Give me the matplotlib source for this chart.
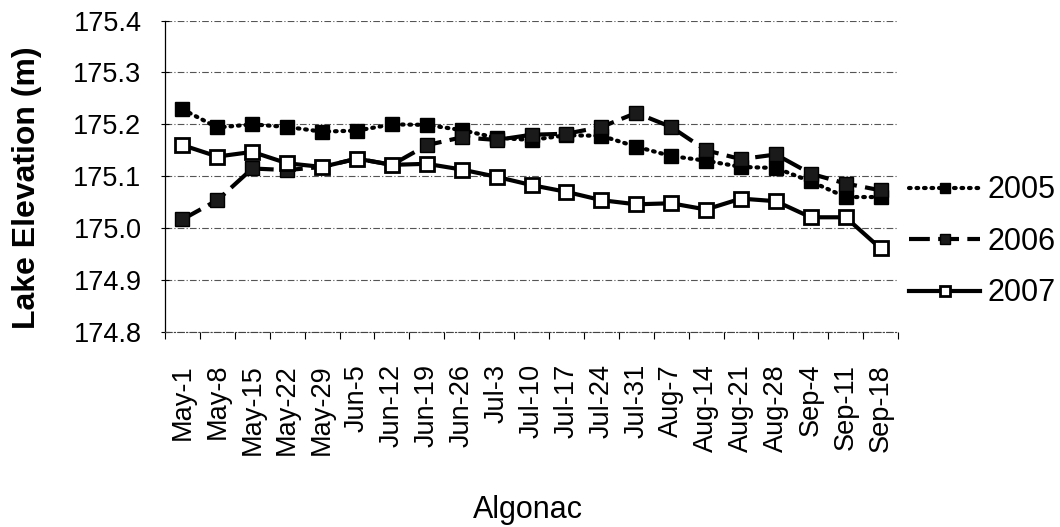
import numpy as np
import matplotlib.pyplot as plt

plt.rcParams['font.family'] = ['Liberation Sans', 'DejaVu Sans']

dates = ["May-1", "May-8", "May-15", "May-22", "May-29", "Jun-5", "Jun-12",
         "Jun-19", "Jun-26", "Jul-3", "Jul-10", "Jul-17", "Jul-24", "Jul-31",
         "Aug-7", "Aug-14", "Aug-21", "Aug-28", "Sep-4", "Sep-11", "Sep-18"]

elev_2005 = [175.229, 175.194, 175.200, 175.195, 175.186, 175.188, 175.200,
             175.199, 175.189, 175.174, 175.170, 175.179, 175.178, 175.157,
             175.139, 175.130, 175.118, 175.116, 175.090, 175.060, 175.060]
elev_2006 = [175.017, 175.054, 175.115, 175.112, 175.118, 175.134, 175.122,
             175.160, 175.175, 175.170, 175.180, 175.182, 175.195, 175.222,
             175.195, 175.150, 175.133, 175.142, 175.105, 175.086, 175.073]
elev_2007 = [175.160, 175.138, 175.147, 175.125, 175.118, 175.134, 175.122,
             175.124, 175.113, 175.099, 175.083, 175.070, 175.054, 175.046,
             175.048, 175.036, 175.057, 175.052, 175.021, 175.021, 174.961]

yticks = [174.8, 174.9, 175.0, 175.1, 175.2, 175.3, 175.4]

fig = plt.figure(figsize=(10.6, 5.27), dpi=100)
ax = fig.add_axes([0.1557, 0.370, 0.6915, 0.591])

x = np.arange(len(dates))

ax.plot(x, elev_2005, color='black', linestyle=(0, (0.4, 1.4)), linewidth=3,
        dash_capstyle='round', marker='s', markersize=10.5,
        markerfacecolor='black', markeredgecolor='black', label='2005', zorder=3)
ax.plot(x, elev_2006, color='black', linestyle=(0, (5, 2)), linewidth=3,
        marker='s', markersize=10.5, markerfacecolor='#1a1a1a',
        markeredgecolor='black', label='2006', zorder=3)
ax.plot(x, elev_2007, color='black', linestyle='-', linewidth=3,
        marker='s', markersize=10.5, markerfacecolor='white',
        markeredgecolor='black', markeredgewidth=2, label='2007', zorder=4)

ax.set_xlim(-0.5, len(dates) - 0.5)
ax.set_ylim(174.8, 175.4)
ax.set_yticks(yticks)
ax.set_yticklabels([f"{v:.1f}" for v in yticks], fontsize=19.5)

# category ticks sit between the dates, labels centred on them
ax.set_xticks(x)
ax.set_xticklabels(dates, rotation=90, fontsize=19.5)
ax.tick_params(axis='x', length=0, pad=23)
ax.set_xticks(np.arange(-0.5, len(dates)), minor=True)
ax.tick_params(axis='x', which='minor', length=5, direction='out', width=0.8)
ax.tick_params(axis='y', length=6, direction='inout', width=0.8, pad=14)

ax.yaxis.grid(True, color='#555555', linestyle=(0, (6, 2, 1, 2)), linewidth=0.8)
ax.set_axisbelow(True)
for side in ['top', 'right']:
    ax.spines[side].set_visible(False)
ax.spines['bottom'].set_linestyle((0, (6, 2, 1, 2)))
ax.spines['bottom'].set_color('#444444')
ax.spines['left'].set_linewidth(0.9)

ax.set_ylabel("Lake Elevation (m)", fontsize=23, fontweight='bold')
ax.yaxis.set_label_coords(-0.168, 0.462)
ax.set_xlabel("Algonac", fontsize=22)
ax.xaxis.set_label_coords(0.495, -0.523)

ax.legend(loc='upper left', bbox_to_anchor=(0.858, 0.667),
          bbox_transform=fig.transFigure, frameon=False, fontsize=22,
          handlelength=2.3, labelspacing=0.70, handletextpad=0.25,
          borderpad=0, borderaxespad=0, markerscale=0.65)

fig.savefig("out.png", dpi=100)
